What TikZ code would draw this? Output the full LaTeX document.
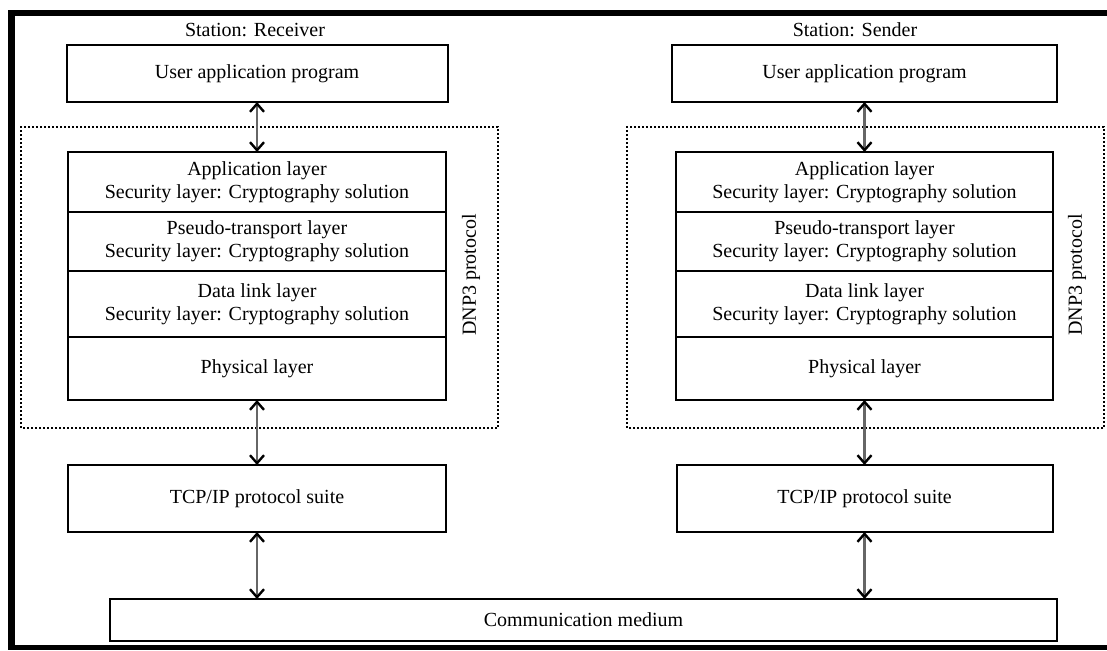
\documentclass[tikz,border=0pt]{standalone}
\usepackage{fontspec}
\setmainfont{Liberation Serif}
\usetikzlibrary{arrows.meta, positioning}

\tikzset{
  layerbox/.style={draw, line width=1pt, fill=white, minimum width=189pt,
                   align=center, inner sep=0pt, outer sep=0pt},
  dnpframe/.style={draw, densely dotted, line width=1pt},
  link/.style={black!60, line width=1.2pt,
               {Straight Barb[black, length=4pt, width=7pt]}-{Straight Barb[black, length=4pt, width=7pt]}},
}

\begin{document}
\begin{tikzpicture}[x=0.5pt, y=0.5pt,
        every node/.style={font=\fontsize{10pt}{11.5pt}\selectfont}]
  \useasboundingbox (0,0) rectangle (1107,650);
  % heavy outer frame
  \fill (8,634) rectangle (1107,640);
  \fill (8,0) rectangle (15,640);
  \fill (8,0) rectangle (1107,5);

  % receiving station
  \node (recv-title) at (255,620) {Station: Receiver};
  \node[layerbox, minimum width=190.5pt, minimum height=28.5pt]
        (recv-user) at (257,576.5) {User application program};
  \draw[dnpframe] (21,222) rectangle (498,523);
  \node[layerbox, minimum height=30pt]
        (recv-app) at (257,468)
        {Application layer\\Security layer: Cryptography solution};
  \node[layerbox, minimum height=29.5pt, below=0pt of recv-app]
        (recv-pseudo) {Pseudo-transport layer\\Security layer: Cryptography solution};
  \node[layerbox, minimum height=33pt, below=0pt of recv-pseudo]
        (recv-link) {Data link layer\\Security layer: Cryptography solution};
  \node[layerbox, minimum height=31.5pt, below=0pt of recv-link]
        (recv-phys) {Physical layer};
  \node[rotate=90] (recv-dnp) at (471,375) {DNP3 protocol};
  \node[layerbox, minimum height=33.5pt]
        (recv-tcp) at (257,151.5) {TCP/IP protocol suite};

  % sending station
  \node (send-title) at (855,620) {Station: Sender};
  \node[layerbox, minimum width=192.5pt, minimum height=28.5pt]
        (send-user) at (864.5,576.5) {User application program};
  \draw[dnpframe] (627,222) rectangle (1104,523);
  \node[layerbox, minimum width=188.5pt, minimum height=30pt]
        (send-app) at (864.5,468)
        {Application layer\\Security layer: Cryptography solution};
  \node[layerbox, minimum width=188.5pt, minimum height=29.5pt, below=0pt of send-app]
        (send-pseudo) {Pseudo-transport layer\\Security layer: Cryptography solution};
  \node[layerbox, minimum width=188.5pt, minimum height=33pt, below=0pt of send-pseudo]
        (send-link) {Data link layer\\Security layer: Cryptography solution};
  \node[layerbox, minimum width=188.5pt, minimum height=31.5pt, below=0pt of send-link]
        (send-phys) {Physical layer};
  \node[rotate=90] (send-dnp) at (1077,375) {DNP3 protocol};
  \node[layerbox, minimum width=188pt, minimum height=33.5pt]
        (send-tcp) at (864.5,151.5) {TCP/IP protocol suite};

  % shared medium
  \node[layerbox, minimum width=473.5pt, minimum height=21pt]
        (medium) at (583.5,30) {Communication medium};

  % links between the layers
  \draw[link] (recv-user) -- (recv-app);
  \draw[link] (recv-phys) -- (recv-tcp);
  \draw[link] (recv-tcp) -- (recv-tcp |- medium.north);
  \draw[link] (send-user) -- (send-app);
  \draw[link] (send-phys) -- (send-tcp);
  \draw[link] (send-tcp) -- (send-tcp |- medium.north);
\end{tikzpicture}
\end{document}
